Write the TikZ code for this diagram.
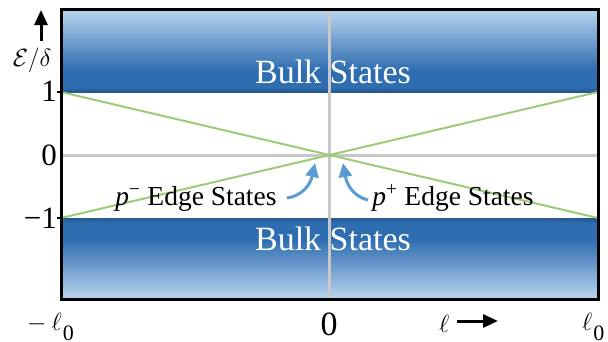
\documentclass[tikz,border=0pt]{standalone}
\usepackage{fontspec}
\setmainfont{Liberation Serif}
\usetikzlibrary{arrows.meta}
\definecolor{bandlight}{HTML}{BAD5EE}
\definecolor{bandmid}{HTML}{2E6DB0}
\definecolor{banddark}{HTML}{26568C}
\definecolor{edgegreen}{HTML}{9DCB7A}
\definecolor{gridgray}{HTML}{C8C8C8}
\definecolor{arrowblue}{HTML}{5B9BD5}
\pgfdeclareverticalshading{upperband}{100bp}{color(0bp)=(banddark); color(25bp)=(banddark); color(28bp)=(bandmid); color(38bp)=(bandmid); color(75bp)=(bandlight); color(100bp)=(bandlight)}
\pgfdeclareverticalshading{lowerband}{100bp}{color(0bp)=(bandlight); color(25bp)=(bandlight); color(62bp)=(bandmid); color(72bp)=(bandmid); color(75bp)=(banddark); color(100bp)=(banddark)}
\newcommand{\ellsub}{$\ell$\hspace{1pt}\raisebox{-10pt}{\fontsize{22}{24}\selectfont 0}}
\tikzset{
  bulklabel/.style={text=white, font=\fontsize{34}{36}\selectfont, inner sep=0pt, anchor=base},
  edgelabel/.style={text=black, font=\fontsize{27.5}{30}\selectfont, inner sep=0pt, anchor=base},
  ticklabel/.style={text=black, font=\fontsize{31}{34}\selectfont, inner sep=0pt},
  elllabel/.style={text=black, font=\fontsize{29}{32}\selectfont, inner sep=0pt},
  gridline/.style={gridgray, line width=3pt},
  edgeline/.style={edgegreen, line width=2pt},
  pointer/.style={arrowblue, line width=3pt, -{Triangle[width=13pt,length=14pt]}},
  axisarrow/.style={black, line width=3pt, -{Triangle[width=13pt,length=15pt]}},
}
\begin{document}
\begin{tikzpicture}[x=1pt,y=-1pt]
\useasboundingbox (0,0) rectangle (608,341);
% frame corners and levels
\coordinate (tl) at (61,9);
\coordinate (br) at (598,299);
\coordinate (lp) at (61,92);
\coordinate (rp) at (598,92);
\coordinate (lm) at (61,218);
\coordinate (rm) at (598,218);
\coordinate (lz) at (61,155);
\coordinate (rz) at (598,155);
\coordinate (ct) at (329,9);
\coordinate (cb) at (329,299);
% bands
\shade[shading=upperband] (tl) rectangle (rp);
\shade[shading=lowerband] (lm) rectangle (br);
% grid lines
\draw[gridline] (ct) -- (cb);
\draw[gridline] (lz) -- (rz);
% edge state lines
\draw[edgeline] (lp) -- (rm);
\draw[edgeline] (lm) -- (rp);
% frame
\draw[black, line width=3pt] (tl) rectangle (br);
\draw[black, line width=2pt] (57,92) -- (lp);
\draw[black, line width=2pt] (57,218) -- (lm);
% labels
\node[bulklabel] (bulkup) at (333,83) {Bulk States};
\node[bulklabel] (bulkdn) at (333,250) {Bulk States};
\node[edgelabel] (pminus) at (196,205) {\textit{p}\textsuperscript{−} Edge States};
\node[edgelabel] (pplus) at (453,205) {\textit{p}\textsuperscript{+} Edge States};
% pointers
\coordinate (lt) at (287,198);
\coordinate (lh) at (315,163);
\coordinate (rt) at (368,200);
\coordinate (rh) at (343,163);
\draw[pointer] (lt) .. controls (301,196) and (310,186) .. (lh);
\draw[pointer] (rt) .. controls (355,197) and (347,186) .. (rh);
% y axis
\node[ticklabel, anchor=east] (yone) at (57,91) {1};
\node[ticklabel, anchor=east] (yzero) at (57,155) {0};
\node[ticklabel, anchor=east] (ymone) at (57,218) {−1};
\node[ticklabel, font=\fontsize{32}{34}\selectfont] (ylab) at (32,60) {$\mathcal{E}/\delta$};
\coordinate (yarrs) at (41,41);
\coordinate (yarre) at (41,10);
\draw[axisarrow] (yarrs) -- (yarre);
% x axis
\node[elllabel, anchor=base west] (xmin) at (27,330) {$-$\hspace{5pt}\ellsub};
\node[ticklabel, anchor=base, font=\fontsize{34}{36}\selectfont] (xzero) at (329,335) {0};
\node[elllabel, anchor=base west, font=\fontsize{33}{36}\selectfont] (xell) at (439,332) {$\ell$};
\coordinate (xarrs) at (457,321);
\coordinate (xarre) at (498,321);
\draw[axisarrow] (xarrs) -- (xarre);
\node[elllabel, anchor=base west] (xmax) at (582,330) {\ellsub};
\end{tikzpicture}
\end{document}
